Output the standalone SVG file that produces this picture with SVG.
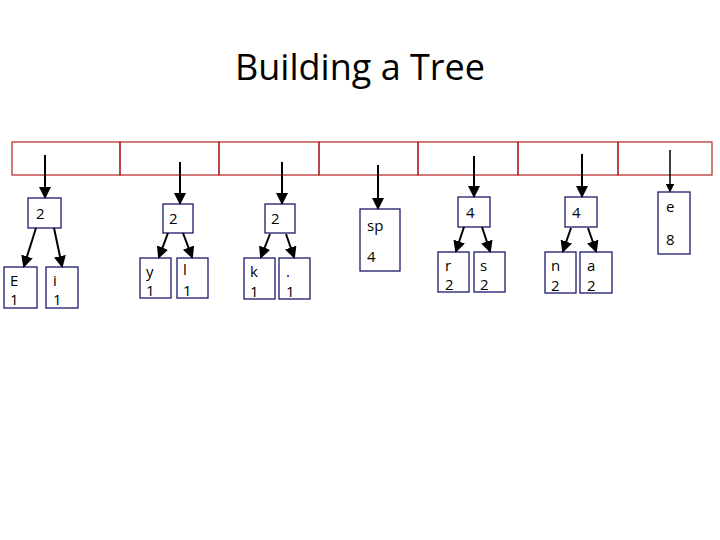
<svg xmlns="http://www.w3.org/2000/svg" width="720" height="540" viewBox="0 0 720 540">
<style>
.cell{fill:none;stroke:#b22222;stroke-width:1.2}
.nd{fill:#fff;stroke:#1a1a6e;stroke-width:1.3}
.t{font-family:"Open Sans","Liberation Sans",sans-serif;font-size:15px;fill:#000}
.ar{stroke:#000;stroke-width:2;marker-end:url(#ah)}
</style>
<defs><marker id="ah" markerWidth="6" markerHeight="6" refX="5" refY="3" orient="auto" markerUnits="strokeWidth"><path d="M0,0 L6,3 L0,6 Z" fill="#000"/></marker></defs>
<rect width="720" height="540" fill="#fff"/>
<text x="360" y="80" text-anchor="middle" font-family="Open Sans,Liberation Sans,sans-serif" font-size="36">Building a Tree</text>
<g id="array">
<rect class="cell" x="12" y="142" width="108" height="33"/>
<rect class="cell" x="120" y="142" width="99" height="33"/>
<rect class="cell" x="219" y="142" width="100" height="33"/>
<rect class="cell" x="319" y="142" width="99" height="33"/>
<rect class="cell" x="418" y="142" width="100" height="33"/>
<rect class="cell" x="518" y="142" width="100" height="33"/>
<rect class="cell" x="618" y="142" width="94" height="33"/>
</g>
<g id="n1"><rect class="nd" x="28" y="198" width="33" height="30"/><text class="t" x="36" y="219">2</text></g>
<g id="nE"><rect class="nd" x="4" y="267" width="33" height="41"/><text class="t" x="10" y="286">E</text><text class="t" x="10" y="305">1</text></g>
<g id="ni"><rect class="nd" x="46" y="267" width="32" height="41"/><text class="t" x="53" y="286">i</text><text class="t" x="53" y="305">1</text></g>
<g id="n2"><rect class="nd" x="163" y="204" width="30" height="29"/><text class="t" x="169" y="224">2</text></g>
<g id="ny"><rect class="nd" x="140" y="258" width="31" height="40"/><text class="t" x="146" y="277">y</text><text class="t" x="146" y="296">1</text></g>
<g id="nl"><rect class="nd" x="177" y="258" width="31" height="40"/><text class="t" x="183" y="275">l</text><text class="t" x="183" y="296">1</text></g>
<g id="n3"><rect class="nd" x="265" y="204" width="30" height="29"/><text class="t" x="271" y="224">2</text></g>
<g id="nk"><rect class="nd" x="244" y="258" width="31" height="41"/><text class="t" x="250" y="277">k</text><text class="t" x="250" y="297">1</text></g>
<g id="ndot"><rect class="nd" x="279" y="258" width="31" height="41"/><text class="t" x="286" y="277">.</text><text class="t" x="286" y="297">1</text></g>
<g id="nsp"><rect class="nd" x="360" y="209" width="40" height="62"/><text class="t" x="367" y="231">sp</text><text class="t" x="367" y="262">4</text></g>
<g id="n4"><rect class="nd" x="458" y="197" width="32" height="30"/><text class="t" x="466" y="218">4</text></g>
<g id="nr"><rect class="nd" x="438" y="252" width="31" height="40"/><text class="t" x="445" y="271">r</text><text class="t" x="445" y="290">2</text></g>
<g id="ns"><rect class="nd" x="474" y="252" width="31" height="40"/><text class="t" x="480" y="271">s</text><text class="t" x="480" y="290">2</text></g>
<g id="n5"><rect class="nd" x="565" y="197" width="32" height="30"/><text class="t" x="572" y="218">4</text></g>
<g id="nn"><rect class="nd" x="545" y="252" width="31" height="41"/><text class="t" x="551" y="271">n</text><text class="t" x="551" y="291">2</text></g>
<g id="na"><rect class="nd" x="580" y="252" width="32" height="41"/><text class="t" x="587" y="271">a</text><text class="t" x="587" y="291">2</text></g>
<g id="ne"><rect class="nd" x="658" y="192" width="32" height="62"/><text class="t" x="666" y="212">e</text><text class="t" x="666" y="245">8</text></g>
<g id="connectors">
<line class="ar" x1="45" y1="155" x2="45" y2="197"/>
<line class="ar" x1="180" y1="162" x2="180" y2="203"/>
<line class="ar" x1="282" y1="162" x2="282" y2="203"/>
<line class="ar" x1="378" y1="165" x2="378" y2="208"/>
<line class="ar" x1="474" y1="156" x2="474" y2="196"/>
<line class="ar" x1="582" y1="154" x2="582" y2="196"/>
<line class="ar" x1="670" y1="150" x2="670" y2="191" style="stroke-width:1.5"/>
<line class="ar" x1="36" y1="228" x2="24" y2="266"/>
<line class="ar" x1="54" y1="228" x2="62" y2="266"/>
<line class="ar" x1="168" y1="233" x2="159" y2="257"/>
<line class="ar" x1="183" y1="233" x2="192" y2="257"/>
<line class="ar" x1="270" y1="234" x2="261" y2="257"/>
<line class="ar" x1="286" y1="234" x2="294" y2="257"/>
<line class="ar" x1="464" y1="227" x2="456" y2="251"/>
<line class="ar" x1="482" y1="227" x2="490" y2="251"/>
<line class="ar" x1="571" y1="228" x2="563" y2="251"/>
<line class="ar" x1="588" y1="228" x2="596" y2="251"/>
</g>
</svg>
